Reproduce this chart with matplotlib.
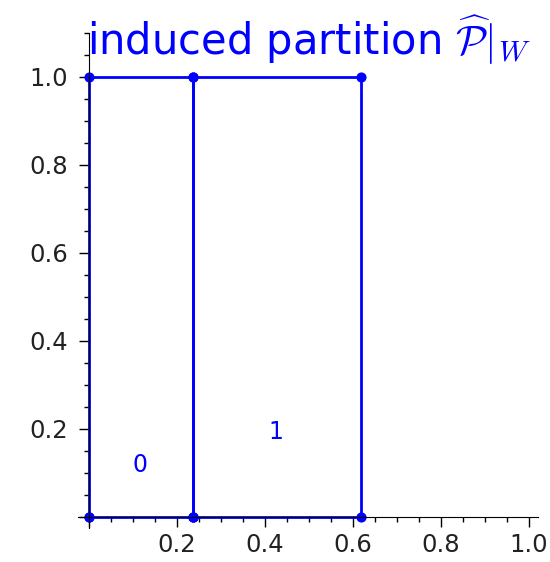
import matplotlib
matplotlib.use('Agg')
import matplotlib.pyplot as plt

plt.rcParams['mathtext.fontset'] = 'cm'

# Data
boundaries = [0.0, 0.236, 0.618]
y_bottom, y_top = 0.0, 1.0
region_labels = ['0', '1']
label_x = [0.116, 0.425]
label_y = [0.118, 0.193]
major_ticks = [0.0, 0.2, 0.4, 0.6, 0.8, 1.0]
tick_labels = ['', '0.2', '0.4', '0.6', '0.8', '1.0']
title = r'induced partition $\widehat{\mathcal{P}}|_W$'

fig = plt.figure(figsize=(5.5, 5.62), dpi=100)
ax = fig.add_axes([0.1418, 0.0605, 0.836, 0.881])

for i in range(len(boundaries) - 1):
    x0, x1 = boundaries[i], boundaries[i + 1]
    ax.plot([x0, x1, x1, x0, x0], [y_bottom, y_bottom, y_top, y_top, y_bottom],
            color='blue', lw=2.0, marker='o', ms=6.3, zorder=2)
    ax.text(label_x[i], label_y[i], region_labels[i], color='blue', fontsize=17,
            ha='center', va='center')

ax.set_xlim(-0.025, 1.02)
ax.set_ylim(-0.025, 1.10)

for s in ['top', 'right']:
    ax.spines[s].set_visible(False)
ax.spines['left'].set_position('zero')
ax.spines['bottom'].set_position('zero')
ax.spines['left'].set_zorder(3)
ax.spines['bottom'].set_zorder(3)

ax.set_xticks(major_ticks, tick_labels)
ax.set_yticks(major_ticks, tick_labels)
ax.xaxis.set_minor_locator(matplotlib.ticker.MultipleLocator(0.05))
ax.yaxis.set_minor_locator(matplotlib.ticker.MultipleLocator(0.05))
ax.tick_params(which='major', direction='out', length=7.2, width=1, labelsize=17.5,
               labelcolor='#222222')
ax.tick_params(axis='x', which='major', pad=4.5)
ax.tick_params(axis='y', which='major', pad=8)
ax.tick_params(which='minor', direction='out', length=3.6, width=1)

fig.text(0.561, 0.902, title, color='blue', fontsize=30, ha='center', va='baseline')

fig.savefig('out.png', dpi=100)
